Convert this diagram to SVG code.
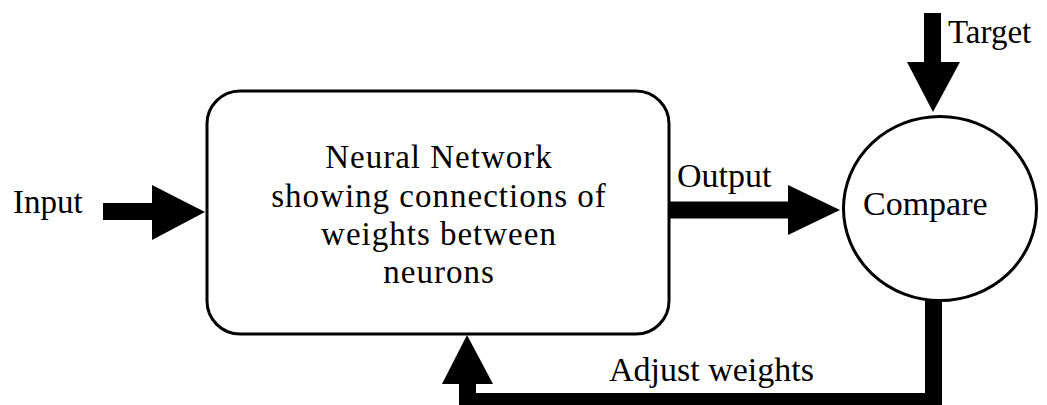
<svg xmlns="http://www.w3.org/2000/svg" width="1047" height="405" viewBox="0 0 1047 405">
  <style>
    .lbl { font-family: "Liberation Serif", "Times New Roman", serif; font-size: 33px; fill: #000; }
    .body { font-family: "Liberation Serif", "Times New Roman", serif; font-size: 33px; letter-spacing: 1px; fill: #000; text-anchor: middle; }
    .shape { fill: #fff; stroke: #000; stroke-width: 3; }
    .head { fill: #000; }
    .shaft { fill: none; stroke: #000; stroke-width: 17; stroke-linejoin: miter; }
  </style>
  <rect width="1047" height="405" fill="#fff"/>

  <!-- connectors -->
  <g id="connectors">
    <!-- input into network -->
    <g id="edge-input">
      <line class="shaft" x1="103" y1="211.5" x2="154" y2="211.5"/>
      <polygon class="head" points="152,185 205,212 152,240"/>
    </g>
    <!-- network output to compare -->
    <g id="edge-output">
      <line class="shaft" x1="668" y1="210" x2="790" y2="210"/>
      <polygon class="head" points="788,185 840,210 788,235"/>
    </g>
    <!-- target into compare -->
    <g id="edge-target">
      <line class="shaft" x1="932.5" y1="13" x2="932.5" y2="64"/>
      <polygon class="head" points="907,62 960,62 933,112"/>
    </g>
    <!-- feedback: adjust weights -->
    <g id="edge-feedback">
      <polyline class="shaft" points="933.5,300 933.5,401.5 467.5,401.5 467.5,382"/>
      <polygon class="head" points="442,384 493,384 467,335"/>
    </g>
  </g>

  <!-- neural network block -->
  <g id="node-network">
    <rect class="shape" x="207" y="91" width="462" height="243" rx="33" ry="33"/>
    <text class="body" x="439" y="168">Neural Network</text>
    <text class="body" x="439" y="207">showing connections of</text>
    <text class="body" x="439" y="245">weights between</text>
    <text class="body" x="439" y="283">neurons</text>
  </g>

  <!-- comparison node -->
  <g id="node-compare">
    <ellipse class="shape" cx="940" cy="208.5" rx="96.5" ry="92"/>
    <text class="lbl" x="863" y="215" style="font-size:34px">Compare</text>
  </g>

  <!-- edge labels -->
  <g id="labels">
    <text class="lbl" x="13" y="213">Input</text>
    <text class="lbl" x="677" y="187" style="font-size:34px">Output</text>
    <text class="lbl" x="948" y="43">Target</text>
    <text class="lbl" x="609" y="381" style="font-size:34px">Adjust weights</text>
  </g>
</svg>
